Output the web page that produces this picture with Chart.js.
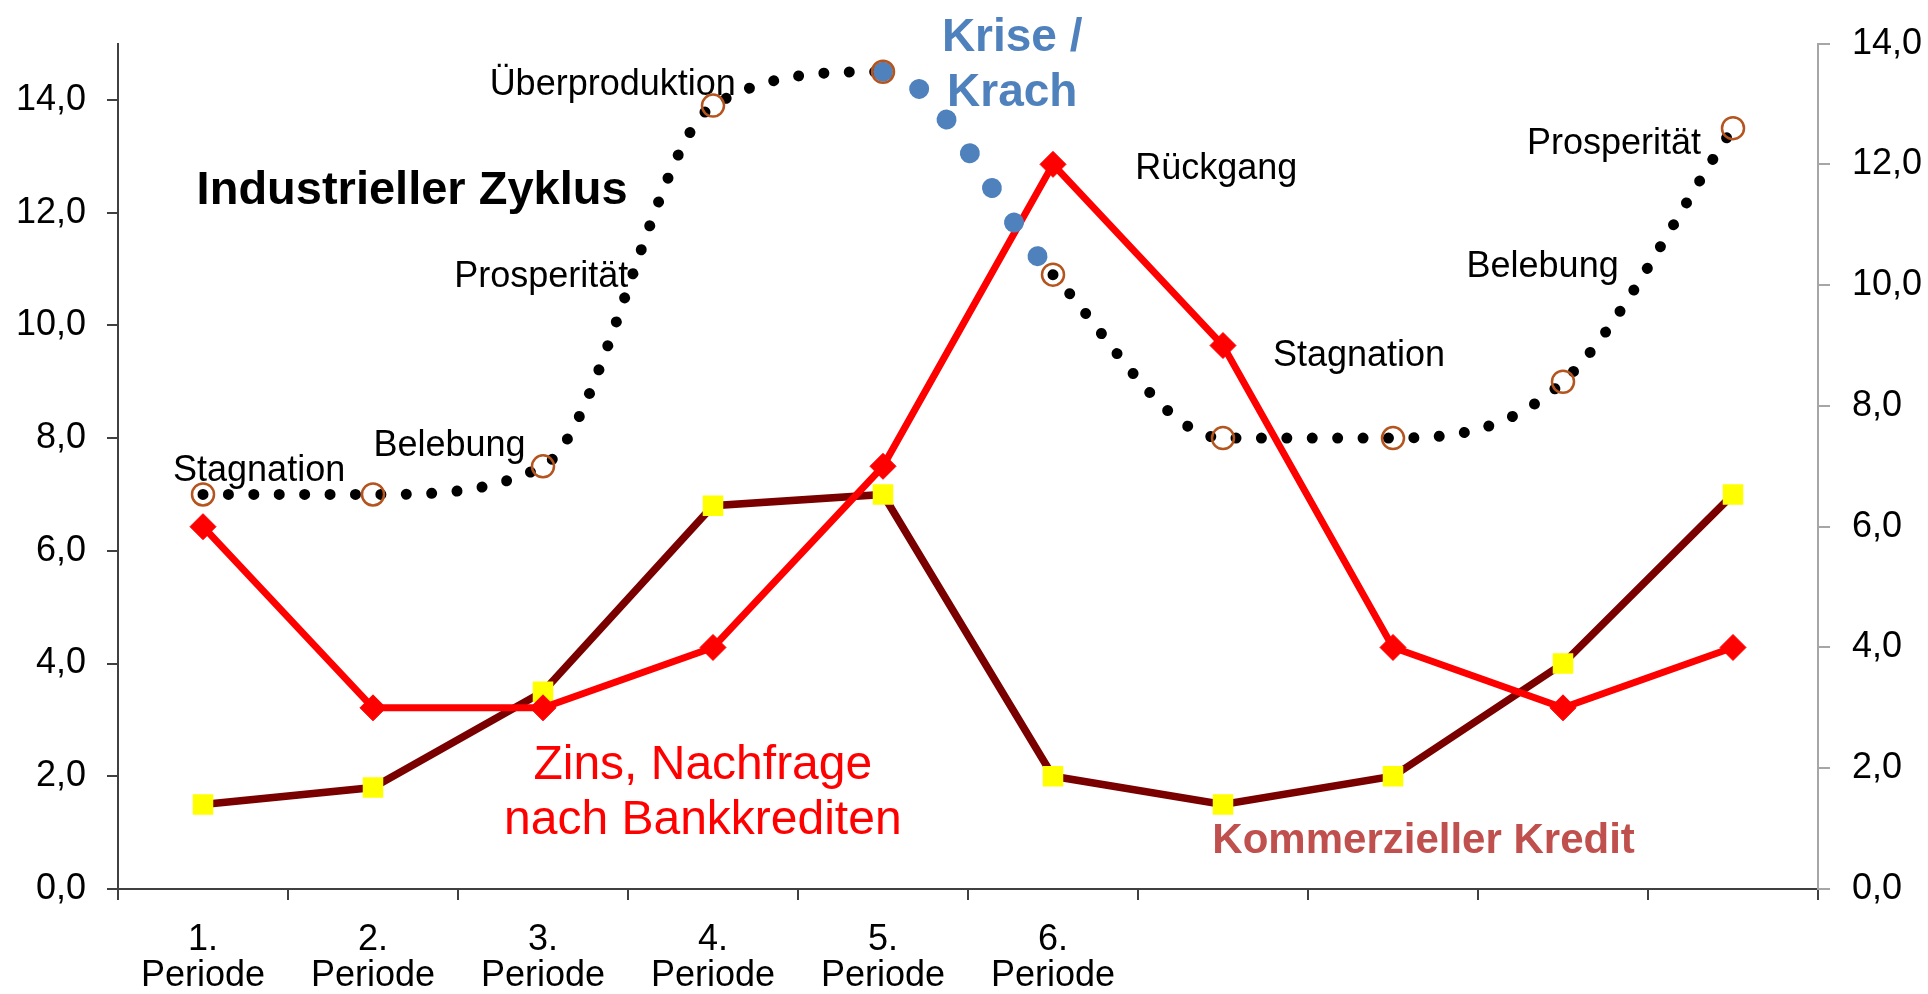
<!DOCTYPE html>
<html>
<head>
<meta charset="utf-8">
<script src="https://cdn.jsdelivr.net/npm/chart.js@4.4.0/dist/chart.umd.min.js"></script>
<style>
  html, body { margin: 0; padding: 0; background: #fff; }
  canvas { display: block; }
</style>
</head>
<body>
<canvas id="zyklus" width="1928" height="994"></canvas>
<script>
// --- Data ---
const periods = [['1.', 'Periode'], ['2.', 'Periode'], ['3.', 'Periode'], ['4.', 'Periode'], ['5.', 'Periode'], ['6.', 'Periode'], '', '', '', ''];
const zyklus = [7.0, 7.0, 7.5, 13.9, 14.5, 10.9, 8.0, 8.0, 9.0, 13.5];   // left axis
const zins = [6, 3, 3, 4, 7, 12, 9, 4, 3, 4];                            // right axis
const kredit = [1.5, 1.8, 3.5, 6.8, 7.0, 2.0, 1.5, 2.0, 4.0, 7.0];       // left axis
const leftTicks = [0, 2, 4, 6, 8, 10, 12, 14];
const rightTicks = [0, 2, 4, 6, 8, 10, 12, 14];
const phases = ['Stagnation', 'Belebung', 'Prosperität', 'Überproduktion', 'Rückgang', 'Stagnation', 'Belebung', 'Prosperität'];
const captions = ['Industrieller Zyklus', 'Krise /', 'Krach', 'Zins, Nachfrage', 'nach Bankkrediten', 'Kommerzieller Kredit'];
const crisisFrom = 4; // segment 5. -> 6. Periode drawn blue

// --- Layout ---
const FONT = '"Liberation Sans", Arial, sans-serif';
const BLUE = '#4f81bd';
const fmt = v => v.toFixed(1).replace('.', ',');

// anchors: [category index, left-axis value] = middle of the text
const phaseAt = [[0.33, 7.41], [1.45, 7.85], [1.99, 10.85], [2.41, 14.27], [5.96, 12.77], [6.80, 9.45], [7.88, 11.04], [8.30, 13.22]];
const captionStyle = [
  { at: [1.23, 12.38], font: 'bold 47px ' + FONT, color: '#000' },
  { at: [4.76, 15.10], font: 'bold 46px ' + FONT, color: BLUE },
  { at: [4.76, 14.11], font: 'bold 46px ' + FONT, color: BLUE },
  { at: [2.94, 2.18], font: '48px ' + FONT, color: '#ff0000' },
  { at: [2.94, 1.21], font: '48px ' + FONT, color: '#ff0000' },
  { at: [7.18, 0.84], font: 'bold 42px ' + FONT, color: '#c0504d' }
];

const notes = {
  id: 'notes',
  beforeDatasetsDraw(chart) {
    const { ctx, scales: { x, y } } = chart;
    const put = (text, at, font, color) => {
      ctx.font = font; ctx.fillStyle = color;
      ctx.fillText(text, x.getPixelForValue(at[0]), y.getPixelForValue(at[1]));
    };
    ctx.save();
    ctx.textAlign = 'center'; ctx.textBaseline = 'middle';
    phases.forEach((p, i) => put(p, phaseAt[i], '36px ' + FONT, '#000'));
    captions.forEach((c, i) => put(c, captionStyle[i].at, captionStyle[i].font, captionStyle[i].color));
    ctx.restore();
  }
};

const tickFont = { family: FONT, size: 36 };

new Chart(document.getElementById('zyklus'), {
  type: 'line',
  data: {
    labels: periods,
    datasets: [
      {
        label: 'Industrieller Zyklus', data: zyklus, yAxisID: 'y',
        borderColor: '#000', borderWidth: 11, borderDash: [0.01, 25.4], borderCapStyle: 'round',
        cubicInterpolationMode: 'monotone',
        pointStyle: 'circle', pointRadius: 11, pointBorderWidth: 2.5,
        pointBorderColor: '#b4541e', pointBackgroundColor: 'rgba(0,0,0,0)',
        segment: {
          borderColor: c => c.p0DataIndex === crisisFrom ? BLUE : undefined,
          borderWidth: c => c.p0DataIndex === crisisFrom ? 20 : undefined,
          borderDash: c => c.p0DataIndex === crisisFrom ? [0.01, 41] : undefined
        }
      },
      {
        label: 'Zins, Nachfrage nach Bankkrediten', data: zins, yAxisID: 'y1',
        borderColor: '#ff0000', borderWidth: 7, tension: 0,
        pointStyle: 'rectRot', pointRadius: 13, pointBorderWidth: 1,
        pointBackgroundColor: '#ff0000', pointBorderColor: '#ff0000'
      },
      {
        label: 'Kommerzieller Kredit', data: kredit, yAxisID: 'y',
        borderColor: '#7a0000', borderWidth: 7.5, tension: 0,
        pointStyle: 'rect', pointRadius: 14.5, pointBorderWidth: 0,
        pointBackgroundColor: '#ffff00'
      }
    ]
  },
  options: {
    responsive: false, animation: false,
    layout: { padding: { top: 37, left: 0, right: 0, bottom: 0 } },
    plugins: { legend: { display: false }, tooltip: { enabled: false } },
    scales: {
      x: {
        offset: true,
        grid: { offset: true, drawOnChartArea: false, tickLength: 11, color: '#404040', lineWidth: 2 },
        border: { color: '#404040', width: 2 },
        ticks: { color: '#000', font: { ...tickFont, lineHeight: 1.0 }, padding: 22, maxRotation: 0, autoSkip: false },
        afterFit: s => { s.height = 105; }
      },
      y: {
        position: 'left', min: 0, max: 15,
        grid: { drawOnChartArea: false, tickLength: 11, color: '#404040', lineWidth: 2 },
        border: { color: '#404040', width: 2 },
        ticks: { color: '#000', font: tickFont, padding: 21, callback: fmt },
        afterBuildTicks: s => { s.ticks = leftTicks.map(v => ({ value: v })); },
        afterFit: s => { s.width = 118; }
      },
      y1: {
        position: 'right', min: 0, max: 14,
        grid: { drawOnChartArea: false, tickLength: 12, color: '#a6a6a6', lineWidth: 2 },
        border: { color: '#a6a6a6', width: 2 },
        ticks: { color: '#000', font: tickFont, padding: 22, callback: fmt },
        afterBuildTicks: s => { s.ticks = rightTicks.map(v => ({ value: v })); },
        afterFit: s => { s.width = 110; }
      }
    }
  },
  plugins: [notes]
});
</script>
</body>
</html>
